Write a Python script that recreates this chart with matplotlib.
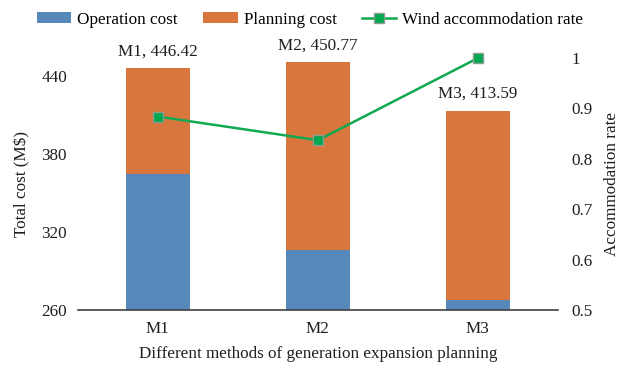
import matplotlib
matplotlib.use("Agg")
import matplotlib.pyplot as plt
import numpy as np

plt.rcParams['font.family'] = ['Liberation Serif', 'DejaVu Serif']

methods = ["M1", "M2", "M3"]
operation_cost = [364.4, 306.0, 267.7]
total_cost = [446.42, 450.77, 413.59]
planning_cost = [t - o for t, o in zip(total_cost, operation_cost)]
wind_rate = [0.884, 0.837, 1.0]
left_ticks = [260, 320, 380, 440]
right_ticks = [0.5, 0.6, 0.7, 0.8, 0.9, 1.0]
right_tick_labels = ["0.5", "0.6", "0.7", "0.8", "0.9", "1"]

blue = "#5689BA"
orange = "#D9763D"
green = "#10A850"
text_color = "#1E1E1E"
fs = 12.3

fig = plt.figure(figsize=(6.24, 3.70), dpi=100)
ax = fig.add_axes([0.125, 0.162, 0.769, 0.681])
x = np.arange(len(methods))

base = 260
ax.bar(x, [o - base for o in operation_cost], bottom=base, width=0.4,
       color=blue, label="Operation cost", zorder=2)
ax.bar(x, planning_cost, bottom=operation_cost, width=0.4,
       color=orange, label="Planning cost", zorder=2)

for xi, m, t in zip(x, methods, total_cost):
    ax.annotate(f"{m}, {t:.2f}", (xi, t), xytext=(0, 9), textcoords="offset points",
                ha="center", va="baseline", fontsize=fs, color=text_color)

ax.set_xlim(-0.5, 2.5)
ax.set_ylim(260, 454)
ax.set_yticks(left_ticks)
ax.set_xticks(x)
ax.set_xticklabels(methods)
ax.tick_params(axis="both", length=0, labelsize=fs, colors=text_color)
ax.tick_params(axis="y", pad=8)
ax.tick_params(axis="x", pad=8)
for s in ["top", "left", "right"]:
    ax.spines[s].set_visible(False)
ax.spines["bottom"].set_color("#404040")
ax.spines["bottom"].set_linewidth(1.2)
ax.set_ylabel("Total cost (M$)", fontsize=fs, color=text_color, labelpad=8)
ax.set_xlabel("Different methods of generation expansion planning", fontsize=fs,
              color=text_color, labelpad=6)

ax2 = ax.twinx()
ax2.plot(x, wind_rate, color=green, lw=1.8, marker="s", markersize=6.5,
         markerfacecolor="#00A84F", markeredgecolor="#8C9C90", markeredgewidth=1,
         label="Wind accommodation rate", zorder=3, clip_on=False)
ax2.set_ylim(0.5, 1.0)
ax2.set_yticks(right_ticks)
ax2.set_yticklabels(right_tick_labels)
ax2.tick_params(axis="y", length=0, labelsize=fs, colors=text_color, pad=10)
for s in ["top", "left", "right", "bottom"]:
    ax2.spines[s].set_visible(False)
ax2.set_ylabel("Accommodation rate", fontsize=fs, color=text_color, labelpad=8)

h1, l1 = ax.get_legend_handles_labels()
h2, l2 = ax2.get_legend_handles_labels()
fig.legend(h1 + h2, l1 + l2, loc="upper center", bbox_to_anchor=(0.497, 1.01), ncol=3,
           frameon=False, fontsize=fs, handlelength=2.0, handleheight=0.6,
           columnspacing=1.5, handletextpad=0.35)

fig.savefig("out.png", dpi=100)
